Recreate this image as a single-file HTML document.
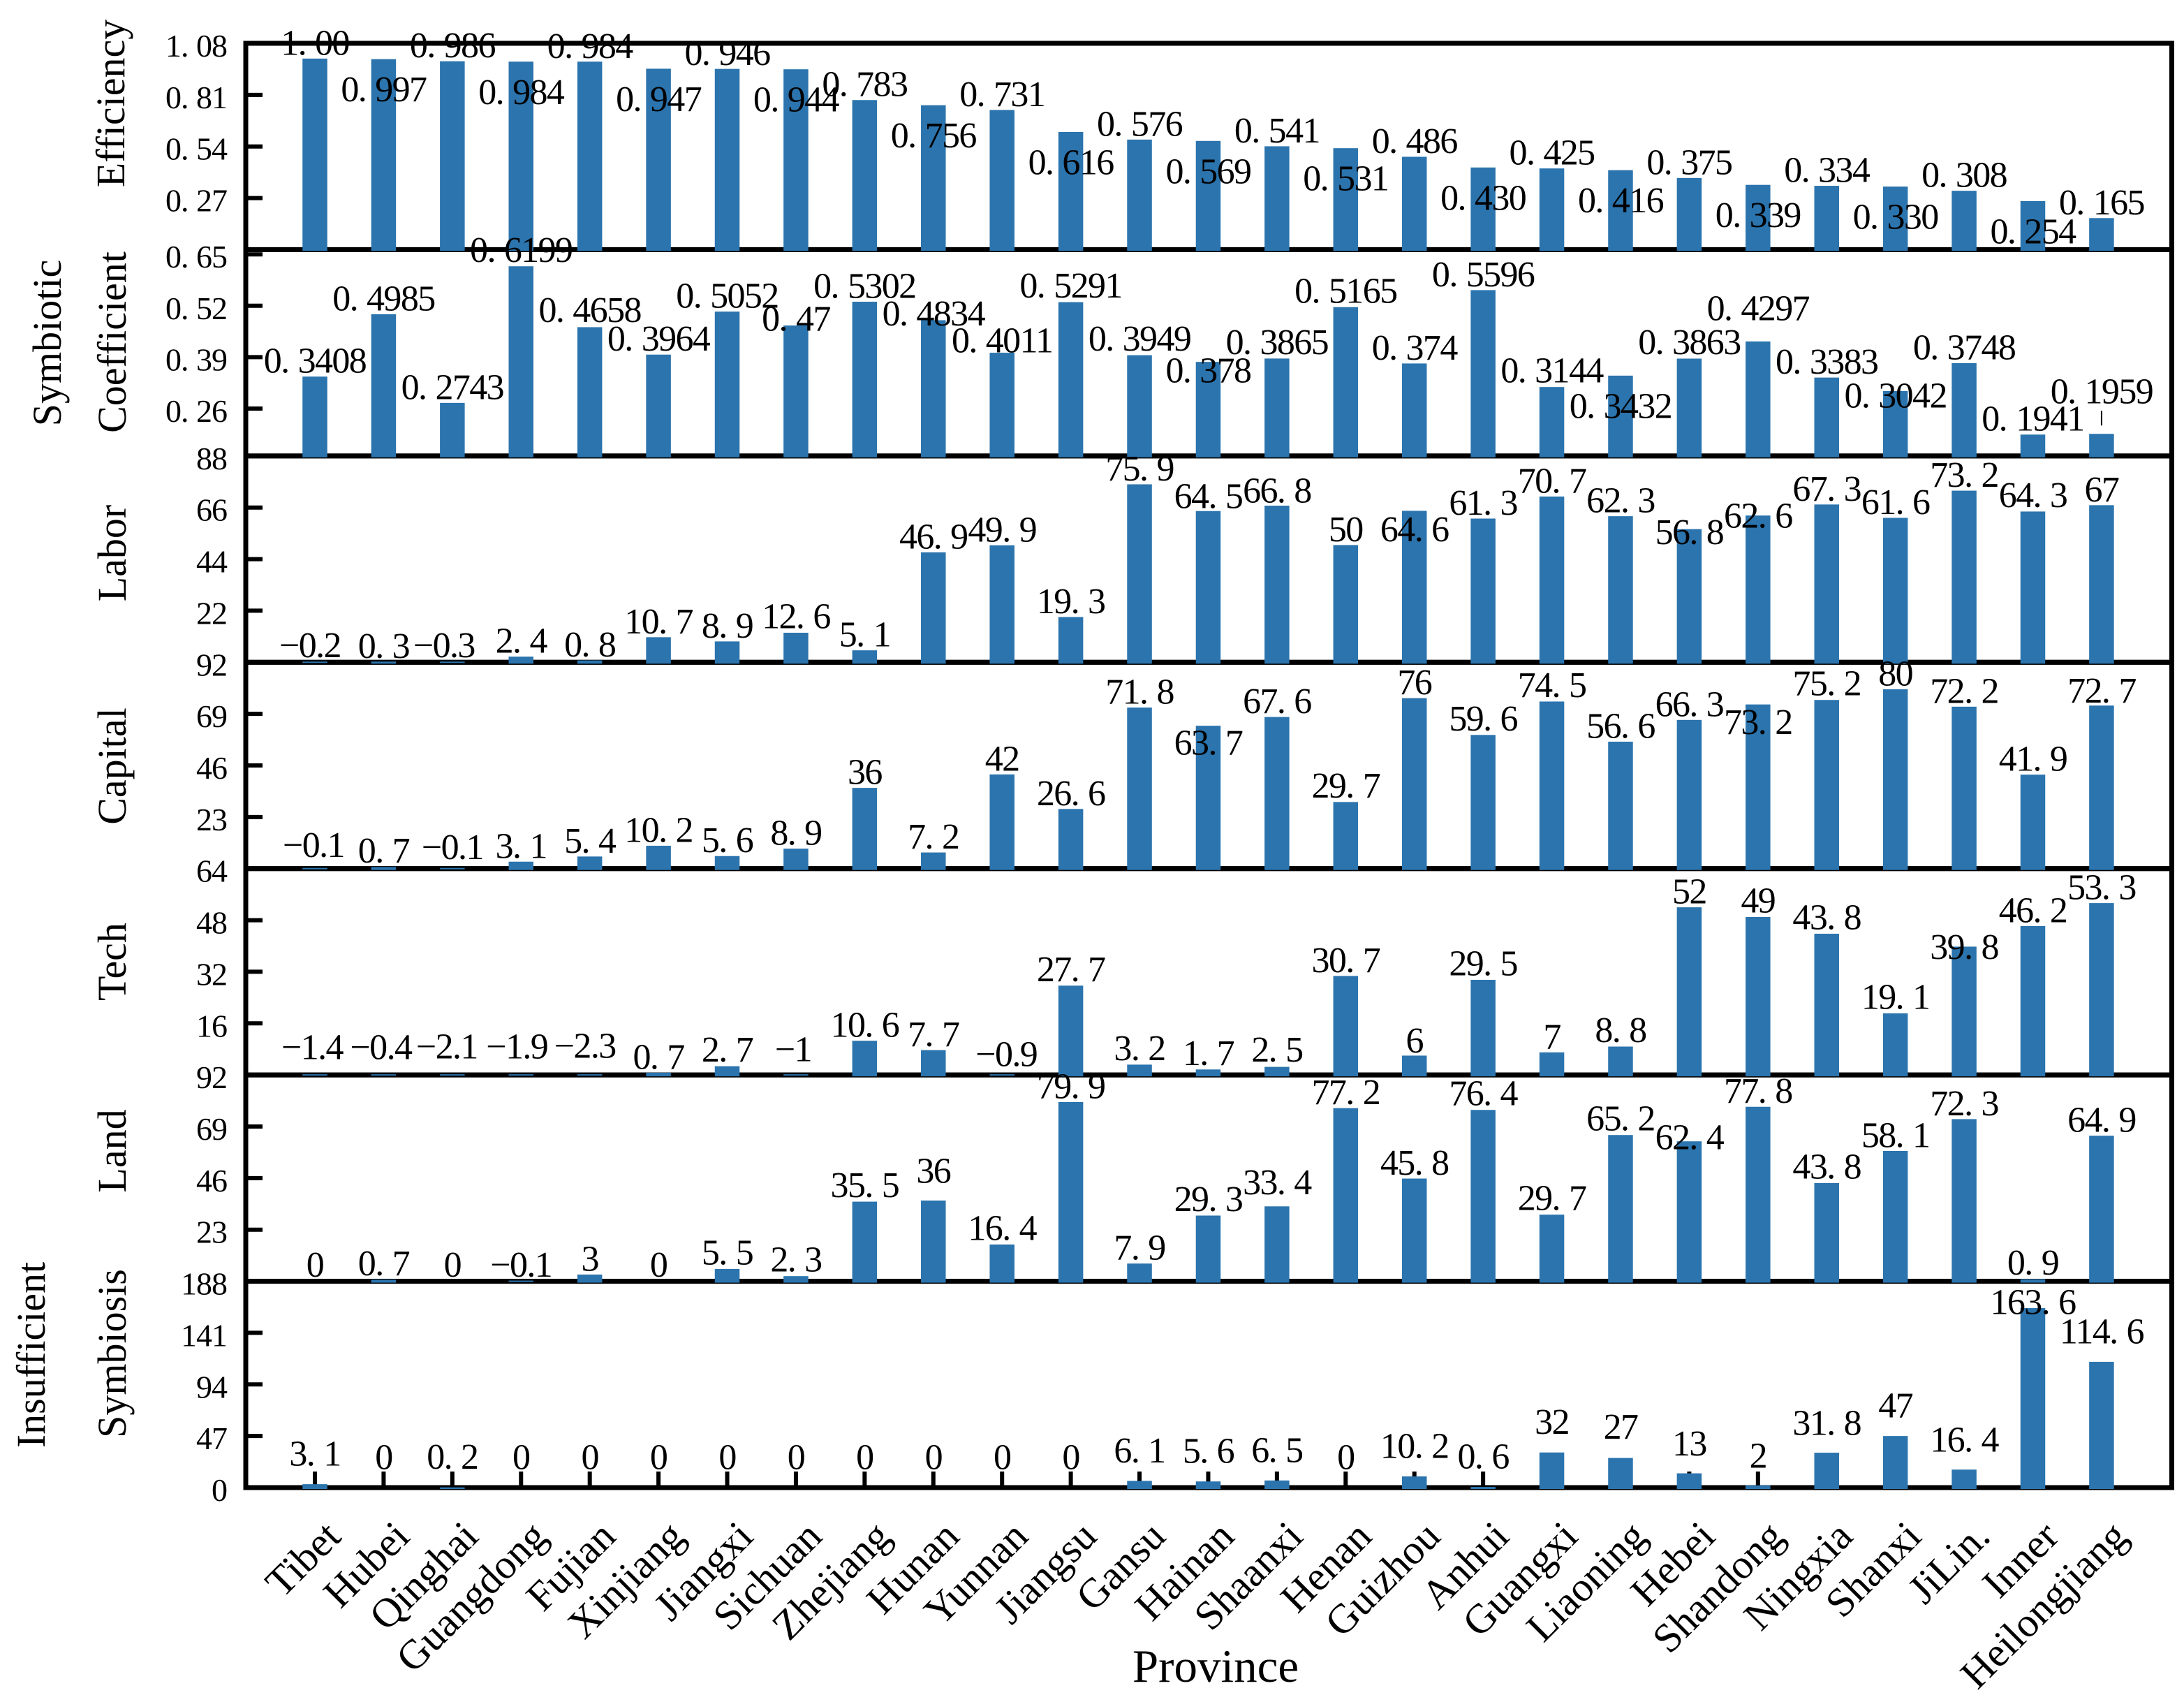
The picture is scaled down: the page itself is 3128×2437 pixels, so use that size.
<!DOCTYPE html>
<html lang="en">
<head>
<meta charset="utf-8">
<title>Symbiosis indicators by province</title>
<style>
html,body{margin:0;padding:0;background:#fff;}
svg{display:block;}
text{font-family:"Liberation Serif","Noto Serif CJK SC",serif;fill:#000;}
</style>
</head>
<body>
<svg id="chart" xmlns="http://www.w3.org/2000/svg" width="3128" height="2437" viewBox="0 0 3128 2437">
<rect x="0" y="0" width="3128" height="2437" fill="#fff"/>
</svg>
<script>
const provinces = ["Tibet","Hubei","Qinghai","Guangdong","Fujian","Xinjiang","Jiangxi","Sichuan","Zhejiang","Hunan","Yunnan","Jiangsu","Gansu","Hainan","Shaanxi","Henan","Guizhou","Anhui","Guangxi","Liaoning","Hebei","Shandong","Ningxia","Shanxi","JiLin.","Inner","Heilongjiang"];

const efficiencyValues = [1.00,0.997,0.986,0.984,0.984,0.947,0.946,0.944,0.783,0.756,0.731,0.616,0.576,0.569,0.541,0.531,0.486,0.430,0.425,0.416,0.375,0.339,0.334,0.330,0.308,0.254,0.165];
const coefficientValues = [0.3408,0.4985,0.2743,0.6199,0.4658,0.3964,0.5052,0.47,0.5302,0.4834,0.4011,0.5291,0.3949,0.378,0.3865,0.5165,0.374,0.5596,0.3144,0.3432,0.3863,0.4297,0.3383,0.3042,0.3748,0.1941,0.1959];
const laborValues = [-0.2,0.3,-0.3,2.4,0.8,10.7,8.9,12.6,5.1,46.9,49.9,19.3,75.9,64.5,66.8,50,64.6,61.3,70.7,62.3,56.8,62.6,67.3,61.6,73.2,64.3,67];
const capitalValues = [-0.1,0.7,-0.1,3.1,5.4,10.2,5.6,8.9,36,7.2,42,26.6,71.8,63.7,67.6,29.7,76,59.6,74.5,56.6,66.3,73.2,75.2,80,72.2,41.9,72.7];
const techValues = [-1.4,-0.4,-2.1,-1.9,-2.3,0.7,2.7,-1,10.6,7.7,-0.9,27.7,3.2,1.7,2.5,30.7,6,29.5,7,8.8,52,49,43.8,19.1,39.8,46.2,53.3];
const landValues = [0,0.7,0,-0.1,3,0,5.5,2.3,35.5,36,16.4,79.9,7.9,29.3,33.4,77.2,45.8,76.4,29.7,65.2,62.4,77.8,43.8,58.1,72.3,0.9,64.9];
const symbiosisValues = [3.1,0,0.2,0,0,0,0,0,0,0,0,0,6.1,5.6,6.5,0,10.2,0.6,32,27,13,2,31.8,47,16.4,163.6,114.6];

const efficiencyTicks = [1.08,0.81,0.54,0.27];
const coefficientTicks = [0.65,0.52,0.39,0.26];
const laborTicks = [88,66,44,22];
const capitalTicks = [92,69,46,23];
const techTicks = [64,48,32,16];
const landTicks = [92,69,46,23];
const symbiosisTicks = [188,141,94,47,0];

/* label placement relative to each bar top (annotation layout, not data) */
const efficiencyLabelGap = [-23,43,-23,43,-23,43,-23,43,-23,43,-23,43,-23,43,-23,43,-23,43,-23,43,-23,43,-23,43,-23,43,-23];
const coefficientLabelGap = [-23,-23,-23,-24,-25,-23,-23,-10,-23,-10,-18,-24,-24,12,-24,-24,-23,-23,-24,43,-24,-48,-23,6,-23,-23,-61];
const laborLabelGap = [-25,-23,-25,-23,-23,-23,-23,-24,-23,-23,-23,-23,-23,-22,-22,-23,26,-23,-23,-23,4,0,-23,-23,-23,-24,-23];
const capitalLabelGap = [-34,-24,-31,-23,-23,-23,-23,-23,-23,-23,-23,-23,-23,24,-23,-24,-23,-24,-24,-23,-23,25,-24,-23,-23,-23,-22];
const techLabelGap = [-40,-40,-41,-41,-42,-23,-24,-37,-23,-23,-30,-24,-24,-24,-25,-23,-22,-24,-23,-24,-23,-24,-24,-24,0,-23,-23];
const landLabelGap = [-24,-24,-24,-24,-23,-24,-24,-24,-24,-43,-24,-23,-23,-24,-35,-23,-23,-24,-24,-24,-6,-23,-24,-23,-23,-24,-23];
const symbiosisLabelGap = [-44,-44,-44,-44,-44,-44,-44,-44,-44,-44,-44,-44,-44,-44,-44,-44,-44,-44,-44,-45,-43,-43,-43,-44,-43,-9,-44];
const laborLabelNudge = {0:-7,2:-12};
const capitalLabelNudge = {0:-2};
const techLabelNudge = {0:-4,1:-4,2:-8,3:-6,4:-7,7:-4,10:6};
const noNudge = {};

const NS = "http://www.w3.org/2000/svg";
const svg = document.getElementById("chart");
const frameLeft = 352, frameRight = 3110.5, frameTop = 62, frameBottom = 2130;
const panelH = (frameBottom - frameTop) / 7;
const firstX = 451, stepX = 98.42, barW = 35.5;
const barColor = "#2b74ae";

function xScale(i){ return firstX + i * stepX; }
function linear(d0, d1, p0, p1){ return v => p0 + (v - d0) * (p1 - p0) / (d1 - d0); }
function make(tag, parent, attrs){
  const e = document.createElementNS(NS, tag);
  for (const k in attrs) e.setAttribute(k, attrs[k]);
  parent.appendChild(e);
  return e;
}
/* SimSun-style wide cell after the decimal point */
function fillNumber(t, str, size){
  if (str.indexOf("-") === 0 || str.indexOf("\u2212") === 0 || str.indexOf(".") < 0){ t.textContent = str; return; }
  const parts = str.split(".");
  t.appendChild(document.createTextNode(parts[0] + "."));
  const s = document.createElementNS(NS, "tspan");
  s.setAttribute("dx", size * 0.25);
  s.textContent = parts[1];
  t.appendChild(s);
}
function fmtEfficiency(v){ return v === 1 ? "1.00" : v.toFixed(3); }
function fmtPlain(v){ return String(v).replace("-", "\u2212"); }

const panels = [
  {key:"efficiency", vals:efficiencyValues, ticks:efficiencyTicks, gap:efficiencyLabelGap, nudge:noNudge, dom:[0,1.08], fmt:fmtEfficiency},
  {key:"coefficient", vals:coefficientValues, ticks:coefficientTicks, gap:coefficientLabelGap, nudge:noNudge, dom:[0.14,0.662], fmt:fmtPlain},
  {key:"labor", vals:laborValues, ticks:laborTicks, gap:laborLabelGap, nudge:laborLabelNudge, dom:[0,88], fmt:fmtPlain},
  {key:"capital", vals:capitalValues, ticks:capitalTicks, gap:capitalLabelGap, nudge:capitalLabelNudge, dom:[0,92], fmt:fmtPlain},
  {key:"tech", vals:techValues, ticks:techTicks, gap:techLabelGap, nudge:techLabelNudge, dom:[0,64], fmt:fmtPlain},
  {key:"land", vals:landValues, ticks:landTicks, gap:landLabelGap, nudge:noNudge, dom:[0,92], fmt:fmtPlain},
  {key:"symbiosis", vals:symbiosisValues, ticks:symbiosisTicks, gap:symbiosisLabelGap, nudge:noNudge, dom:[0,188], fmt:fmtPlain}
];

const labelLayer = make("g", svg, {});



for (let p = panels.length - 1; p >= 0; p--){
  const cfg = panels[p];
  const top = frameTop + p * panelH, bottom = top + panelH;
  const y = linear(cfg.dom[0], cfg.dom[1], bottom, top);
  const zero = cfg.dom[0] > 0 ? bottom : y(0);

  const g = make("g", svg, {});
  
  

  const frame = make("rect", g, {x:frameLeft, y:top, width:frameRight-frameLeft, height:panelH, fill:"none", stroke:"#000", "stroke-width":7});
  
  

  cfg.ticks.forEach(function(tv){
    const ty = y(tv);
    if (tv !== 0){
      const tick = make("line", g, {x1:frameLeft, x2:376, y1:ty, y2:ty, stroke:"#000", "stroke-width":6});
      
      
    }
    const lab = make("text", g, {x:325, y:ty+19, "text-anchor":"end", "font-size":46, "letter-spacing":"-1"});
    fillNumber(lab, String(tv), 46);
    
    
  });

  if (p === panels.length - 1){
    provinces.forEach(function(name, i){
      const xt = make("line", g, {x1:xScale(i), x2:xScale(i), y1:bottom, y2:bottom-23, stroke:"#000", "stroke-width":6});
      
      
    });
  }

  cfg.vals.forEach(function(v, i){
    const cx = xScale(i);
    const barTop = v < 0 ? zero - 1 : y(v);
    if (v !== 0){
      const bar = make("rect", g, {x:cx-barW/2, y:barTop, width:barW, height:(v < 0 ? 2 : Math.max(zero + 2 - barTop, 0)), fill:barColor});
      
      
    }
    const anchorY = v < 0 ? zero : barTop;
    const label = make("text", labelLayer, {x:cx + (cfg.nudge[i] || 0), y:anchorY + cfg.gap[i] + 17.5, "text-anchor":"middle", "font-size":52, "letter-spacing":"-1.6"});
    fillNumber(label, cfg.fmt(v), 52);
    
    
    if (cfg.key === "coefficient" && i === provinces.length - 1){
      const leader = make("line", g, {x1:cx, x2:cx, y1:barTop-33, y2:barTop-12, stroke:"#000", "stroke-width":2});
      
      
    }
  });
}
svg.appendChild(labelLayer);

/* y-axis titles */
const yTitles = [
  ["Efficiency",178,148,"efficiency-y-title"],
  ["Symbiotic",87,491,"symbiotic-y-title"],
  ["Coefficient",180,490,"coefficient-y-title"],
  ["Labor",180,792,"labor-y-title"],
  ["Capital",180,1097,"capital-y-title"],
  ["Tech",180,1377,"tech-y-title"],
  ["Land",180,1648,"land-y-title"],
  ["Insufficient",64,1940,"insufficient-y-title"],
  ["Symbiosis",180,1938,"symbiosis-y-title"]
];
yTitles.forEach(function(t){
  const e = make("text", svg, {transform:"translate(" + t[1] + "," + t[2] + ") rotate(-90)", "text-anchor":"middle", "font-size":58});
  e.textContent = t[0];
  
  
});

/* x-axis category labels */
provinces.forEach(function(name, i){
  const ax = xScale(i) + 40, ay = 2203;
  const e = make("text", svg, {transform:"translate(" + ax + "," + ay + ") rotate(-45)", "text-anchor":"end", "font-size":59});
  e.textContent = name;
  
  
});

const xTitle = make("text", svg, {x:1741, y:2408, "text-anchor":"middle", "font-size":67});
xTitle.textContent = "Province";


</script>
</body>
</html>
